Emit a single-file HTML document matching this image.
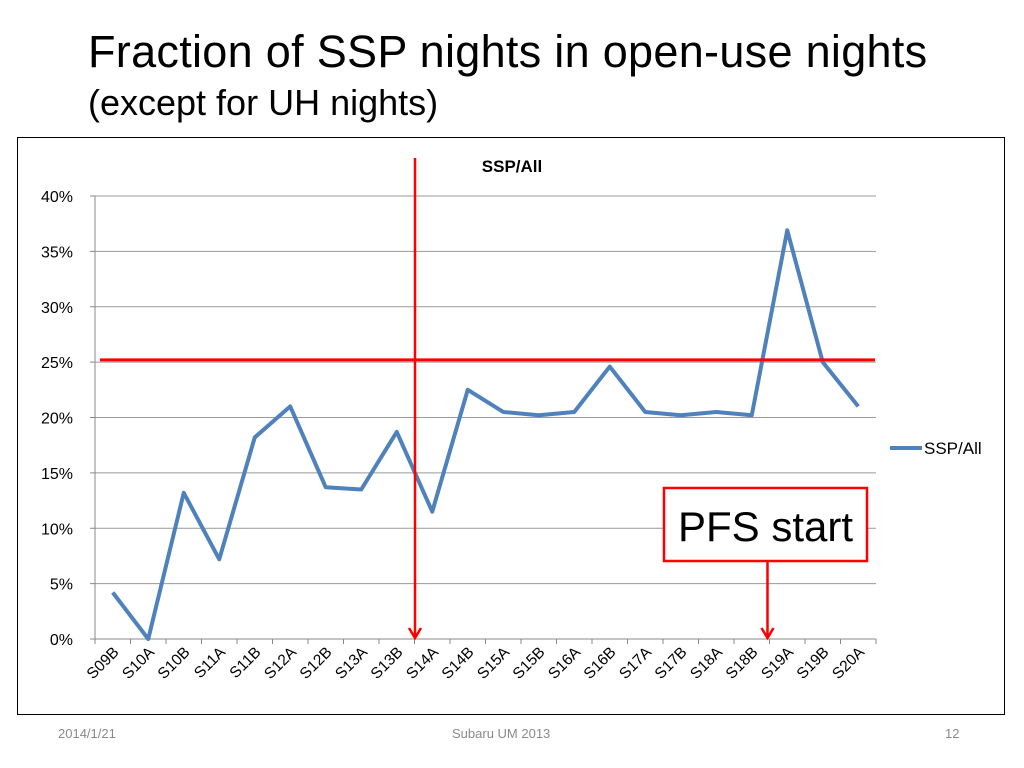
<!DOCTYPE html>
<html><head><meta charset="utf-8"><style>
body{margin:0;width:1024px;height:768px;background:#fff;font-family:"Liberation Sans",sans-serif;position:relative;overflow:hidden}
.t{position:absolute;left:88px;top:26px;font-size:45px;color:#000;letter-spacing:0.3px}
.s{position:absolute;left:88px;top:82px;font-size:36px;color:#000}
.f{position:absolute;top:726px;font-size:13px;color:#8a8a8a}
</style></head><body>
<div class="t">Fraction of SSP nights in open-use nights</div>
<div class="s">(except for UH nights)</div>
<svg id="c" width="1024" height="768" style="position:absolute;left:0;top:0"></svg>
<div class="f" style="left:58px">2014/1/21</div>
<div class="f" style="left:452px">Subaru UM 2013</div>
<div class="f" style="left:945px">12</div>
<script>
const categories=["S09B","S10A","S10B","S11A","S11B","S12A","S12B","S13A","S13B","S14A","S14B","S15A","S15B","S16A","S16B","S17A","S17B","S18A","S18B","S19A","S19B","S20A"];
const values=[4.2,0,13.2,7.2,18.2,21,13.7,13.5,18.7,11.5,22.5,20.5,20.2,20.5,24.6,20.5,20.2,20.5,20.2,36.9,25,21];
const yTicks=[0,5,10,15,20,25,30,35,40];
const thresholdValue=25.2;
const markerCategories=["S14A","S19A"];
const NS="http://www.w3.org/2000/svg";
const svg=document.getElementById('c');
const L=95,R=876,T=196,B=639;
const bw=(R-L)/categories.length;
const x=i=>L+bw*(i+0.5);
const y=v=>B-(v/40)*(B-T);
function mk(t,a,p){const e=document.createElementNS(NS,t);for(const k in a)e.setAttribute(k,a[k]);(p||svg).appendChild(e);return e;}
let fr=mk('rect',{x:17.5,y:137.5,width:987,height:577,fill:'none',stroke:'#000','stroke-width':1});


yTicks.forEach(v=>{
 let g=mk('line',{x1:L,x2:R,y1:y(v),y2:y(v),stroke:v===0?'#888':'#999','stroke-width':1});
 
 
 mk('line',{x1:L-5,x2:L,y1:y(v),y2:y(v),stroke:'#888'});
 let t=mk('text',{x:L-22,y:y(v)+6,'text-anchor':'end','font-size':16,fill:'#000'});t.textContent=v+'%';
 
 
});
mk('line',{x1:L,x2:L,y1:T,y2:B,stroke:'#888'});
categories.forEach((c,i)=>{
 mk('line',{x1:L+bw*i,x2:L+bw*i,y1:B,y2:B+5,stroke:'#888'});
 let t=mk('text',{x:x(i)+7,y:B+14,'text-anchor':'end','font-size':15.5,fill:'#000',transform:`rotate(-45 ${x(i)+7} ${B+14})`});t.textContent=c;
 
 
});
mk('line',{x1:R,x2:R,y1:B,y2:B+5,stroke:'#888'});
let ln=mk('polyline',{points:values.map((v,i)=>x(i)+','+y(v)).join(' '),fill:'none',stroke:'#4f81bd','stroke-width':4,'stroke-linejoin':'round'});


let th=mk('line',{x1:100,x2:875,y1:y(thresholdValue),y2:y(thresholdValue),stroke:'#f00','stroke-width':3});


const i14=categories.indexOf(markerCategories[0]),i19=categories.indexOf(markerCategories[1]);
const vx=L+bw*i14+0.5, ax=L+bw*i19-2;
let vl=mk('line',{x1:vx,x2:vx,y1:158,y2:638,stroke:'#f00','stroke-width':2.5});


mk('polyline',{points:`${vx-6},628 ${vx},638 ${vx+6},628`,fill:'none',stroke:'#f00','stroke-width':2.5});
let al=mk('line',{x1:ax,x2:ax,y1:561,y2:638,stroke:'#f00','stroke-width':2.5});


mk('polyline',{points:`${ax-6},628 ${ax},638 ${ax+6},628`,fill:'none',stroke:'#f00','stroke-width':2.5});
let bx=mk('rect',{x:664,y:488,width:203,height:73,fill:'#fff',stroke:'#f00','stroke-width':2.5});


let pt=mk('text',{x:765.5,y:541,'text-anchor':'middle','font-size':42,fill:'#000'});pt.textContent='PFS start';


let ct=mk('text',{x:512,y:172,'text-anchor':'middle','font-size':17,'font-weight':'bold',fill:'#000'});ct.textContent='SSP/All';


mk('line',{x1:890,x2:922,y1:448,y2:448,stroke:'#4f81bd','stroke-width':4});
let lg=mk('text',{x:924,y:454,'font-size':17,fill:'#000'});lg.textContent='SSP/All';


</script>
</body></html>
